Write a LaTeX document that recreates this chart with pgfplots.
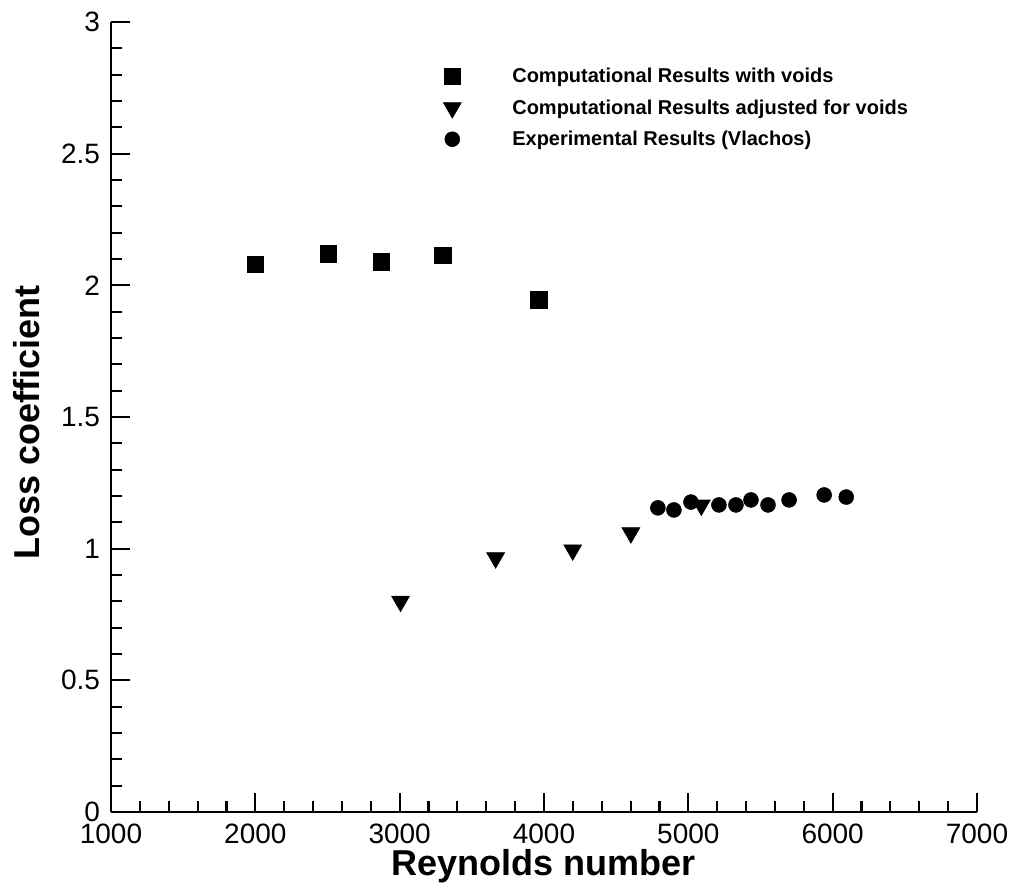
\documentclass[border=0pt]{standalone}
\usepackage{fontspec}
\setmainfont{Liberation Sans}
\usepackage{pgfplots}
\pgfplotsset{compat=1.18}
\begin{document}
\begin{tikzpicture}
\begin{axis}[
  scale only axis,
  width=649.5pt, height=592.5pt,
  xmin=1000, xmax=7000, ymin=0, ymax=3,
  axis x line*=bottom, axis y line*=left,
  axis line style={line width=2.2pt, -},
  xtick={1000,2000,3000,4000,5000,6000,7000},
  ytick={0,0.5,1,1.5,2,2.5,3},
  minor x tick num=4, minor y tick num=4,
  tick align=inside,
  major tick length=14pt, minor tick length=8.5pt,
  tick style={black, line width=1.6pt},
  tick label style={font=\fontsize{21}{21}\selectfont, /pgf/number format/assume math mode=true, inner sep=0pt},
  xticklabel style={/pgf/number format/set thousands separator={}, yshift=-8.5pt},
  yticklabel style={xshift=-8pt},
  xlabel={Reynolds number},
  ylabel={Loss coefficient},
  label style={font=\fontsize{27}{27}\bfseries\selectfont, inner sep=0pt},
  xlabel style={at={(axis description cs:0.5,0)}, anchor=base, yshift=-47.25pt},
  ylabel style={at={(axis description cs:0,0.493)}, anchor=base, yshift=53.25pt},
  legend cell align=left,
  legend style={at={(0.3815,0.9515)}, anchor=north west, draw=none, fill=none,
    inner sep=0pt, row sep=0pt, font=\fontsize{15}{15}\bfseries\selectfont,
    nodes={inner sep=0pt},
    /tikz/every even column/.append style={column sep=0pt}},
  myleg/.style={legend image code/.code={%
      \path[draw=none, fill=none] (-8pt,-11.8pt) rectangle (45pt,11.8pt);
      \draw[##1] plot coordinates {(0pt,0pt)};}},
]
\addplot[only marks, mark=square*, mark size=6.2pt, draw=black, fill=black, myleg]
  coordinates {(2000,2.08) (2505,2.12) (2872,2.09) (3297,2.115) (3963,1.945)};
\addlegendentry{Computational Results with voids}
\addplot[only marks, mark=triangle*, mark size=7.8pt, mark options={rotate=180}, draw=black, fill=black, myleg]
  coordinates {(3006,0.80) (3665,0.965) (4199,0.995) (4602,1.06) (5090,1.165)};
\addlegendentry{Computational Results adjusted for voids}
\addplot[only marks, mark=*, mark size=5.6pt, draw=black, fill=black, myleg]
  coordinates {(4789,1.155) (4900,1.147) (5018,1.177) (5212,1.166) (5330,1.166)
               (5434,1.185) (5552,1.166) (5698,1.185) (5941,1.204) (6094,1.196)};
\addlegendentry{Experimental Results (Vlachos)}
\coordinate (sw) at (rel axis cs:0,0);
\end{axis}
\pgfresetboundingbox
\path[use as bounding box] ([xshift=-83.25pt,yshift=-57pt]sw) rectangle ([xshift=676.5pt,yshift=609pt]sw);
\end{tikzpicture}
\end{document}
